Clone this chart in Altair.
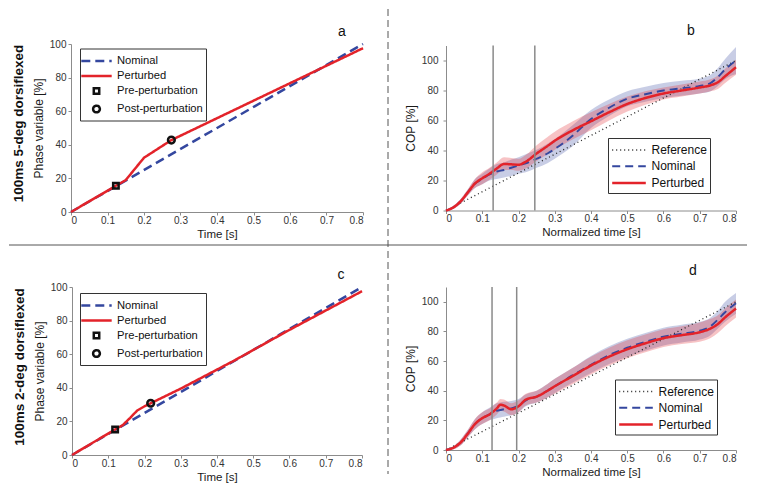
import altair as alt
import pandas as pd

BLUE = "#34479f"
RED = "#e3232a"
FONT = "Liberation Sans"

X_TICKS = [0, 0.1, 0.2, 0.3, 0.4, 0.5, 0.6, 0.7, 0.8]
Y_TICKS = [0, 20, 40, 60, 80, 100]

PHASE_SERIES = ["Nominal", "Perturbed", "Pre-perturbation", "Post-perturbation"]
COP_SERIES = ["Reference", "Nominal", "Perturbed"]

# ---------------- panel a (phase variable, 5 deg) ----------------
a_nom_t = [0.0, 0.8]
a_nom_v = [0.0, 100.0]
a_per_t = [0.0, 0.123, 0.15, 0.2, 0.275, 0.8]
a_per_v = [0.0, 15.6, 19.0, 32.3, 42.8, 97.5]
a_mark_t = [0.123, 0.275]
a_mark_v = [15.6, 42.8]

# ---------------- panel c (phase variable, 2 deg) ----------------
c_nom_t = [0.0, 0.8]
c_nom_v = [0.0, 100.0]
c_per_t = [0.0, 0.119, 0.14, 0.16, 0.18, 0.2, 0.217, 0.3, 0.45, 0.6, 0.8]
c_per_v = [0.0, 15.2, 17.8, 22.0, 26.5, 29.0, 30.8, 39.5, 56.5, 74.5, 97.5]
c_mark_t = [0.119, 0.217]
c_mark_v = [15.2, 30.8]

# ---------------- panel b (COP, 5 deg) ----------------
b_t = [0, .02, .04, .06, .08, .10, .12, .14, .16, .18, .20, .22, .25, .28, .30,
       .35, .40, .45, .50, .55, .60, .65, .70, .73, .75, .77, .80]
b_per = [0, 2, 6, 12, 18, 21.5, 24.5, 28, 31, 30.8, 30.5, 32.5, 38, 43, 46.5,
         53.5, 59.5, 65.5, 71, 75, 78, 80, 82, 83.5, 85.5, 89.5, 95.5]
b_per_lo = [0, 1, 4.5, 10, 15, 17.5, 20.5, 24, 27, 27, 26.5, 28, 33, 37.5, 40.5,
            47.5, 53.5, 60, 66, 70.5, 74, 76, 78, 79.5, 81, 85, 90.5]
b_per_hi = [0.5, 3, 7.5, 14, 21, 25.5, 28.5, 32, 35.5, 35, 34.5, 37, 43.5, 49, 52.5,
            59.5, 65.5, 71, 76, 79.5, 82, 84, 86, 87.5, 90, 94.5, 100.5]
b_nom = [0, 2, 6, 12, 18, 21, 24, 26, 27, 28.5, 30, 31.5, 34.5, 38, 41,
         50, 61, 68.5, 74.5, 77.5, 80, 81.5, 83, 85, 89, 94, 100]
b_nom_lo = [0, 1, 4.5, 10, 15, 17.5, 20, 21, 22, 23, 24.5, 25.5, 28.5, 31.5, 34.5,
            43, 55, 63, 69.5, 72.5, 75, 76.5, 78, 79.5, 83, 87.5, 91]
b_nom_hi = [0.5, 3, 7.5, 14, 21, 24.5, 28, 31, 32, 34, 35.5, 37.5, 40.5, 44.5, 47.5,
            57, 67, 74, 79.5, 82.5, 85, 86.5, 88, 90.5, 95, 101, 109]
b_ref_t = [0.0, 0.8]
b_ref_v = [0.0, 100.0]
b_vlines = [0.13, 0.245]

# ---------------- panel d (COP, 2 deg) ----------------
d_t = [0, .02, .04, .06, .08, .10, .12, .14, .15, .16, .18, .20, .22, .25, .28, .30,
       .35, .40, .45, .50, .55, .60, .65, .70, .73, .75, .77, .80]
d_per = [0, 1.5, 5, 11, 17.5, 21.5, 24, 28, 30.5, 30, 27.5, 29.5, 34, 36, 40, 43,
         50, 57, 63, 68, 72, 75.5, 77.5, 79.5, 82, 85, 89.5, 95.5]
d_per_lo = [0, 0.5, 3, 8.5, 14, 17.5, 20, 24, 26.5, 26, 23.5, 25.5, 30, 32, 35.5, 38,
            44.5, 51, 57, 62, 66, 69.5, 71.5, 73, 75.5, 79, 83.5, 89.5]
d_per_hi = [0.5, 2.5, 7, 13.5, 21, 25.5, 28, 32, 34.5, 34, 31.5, 33.5, 38, 40, 44.5, 48,
            55.5, 63, 69, 74, 78, 81.5, 83.5, 86, 88.5, 91, 95.5, 101.5]
d_nom = [0, 1.5, 5, 11, 17.5, 21.5, 24, 26.5, 27, 27.5, 28, 30, 33.5, 36, 40, 43,
         50.5, 57.5, 64, 69, 73, 76.5, 78.5, 80.5, 83.5, 88, 93, 99]
d_nom_lo = [0, 0.5, 3, 8.5, 14, 17.5, 20, 21.5, 22, 22.5, 23.5, 25.5, 29.5, 32, 35.5, 38.5,
            45.5, 52, 58, 63, 67, 70.5, 72.5, 74.5, 77.5, 82, 86.5, 92]
d_nom_hi = [0.5, 2.5, 7, 13.5, 21, 25.5, 28.5, 31.5, 32, 32.5, 33, 34.5, 37.5, 40, 44.5, 48,
            55.5, 63.5, 70, 75, 79, 82.5, 84.5, 86.5, 89.5, 94, 100, 106]
d_ref_t = [0.0, 0.8]
d_ref_v = [0.0, 100.0]
d_vlines = [0.127, 0.195]

ROW_TITLES = ["100ms 5-deg dorsiflexed", "100ms 2-deg dorsiflexed"]
LETTERS = ["a", "b", "c", "d"]

# symbol shapes (unit square -1..1 scaled by sqrt(size)/2)
LINE_SYM = "M-1.9,0L1.9,0"
LINE_SYM_B = "M-2.1,0L2.1,0"
SQUARE_SYM = "M-0.34,-0.34L0.34,-0.34L0.34,0.34L-0.34,0.34Z"
CIRCLE_SYM = "M-0.42,0A0.42,0.42 0 1,0 0.42,0A0.42,0.42 0 1,0 -0.42,0Z"

PHASE_SYM = {
    "strokeDash": "datum.value == 'Nominal' ? [9, 6] : [1, 0]",
    "strokeWidth": "2.5",
}
COP_SYM = {
    "strokeDash": "datum.value == 'Nominal' ? [7, 5] : datum.value == 'Reference' ? [1, 3] : [1, 0]",
    "strokeWidth": "datum.value == 'Reference' ? 1.3 : 2.5",
}

MODE = {"enc": "flat", "axis": "flat"}


def sym_encode(spec):
    if MODE["enc"] == "flat":
        d = {k: {"value": {"expr": v}} for k, v in spec.items()}
        d["fill"] = {"value": "transparent"}
        return {"symbols": d}
    if MODE["enc"] == "update":
        d = {k: {"signal": v} for k, v in spec.items()}
        d["fill"] = {"value": "transparent"}
        return {"symbols": {"update": d}}
    return None


def tick_encode(prop, val):
    # inward pointing ticks, MATLAB style
    if MODE["axis"] == "flat":
        return {"ticks": {prop: {"value": val}}}
    return None


def axis(**kw):
    return alt.Axis(**{k: v for k, v in kw.items() if v is not None})


def text_at(txt, x, y, size, bold=False, angle=0):
    return alt.Chart(alt.Data(values=[{}])).mark_text(
        text=txt, fontSize=size, font=FONT, fontWeight="bold" if bold else "normal",
        angle=angle, align="center", baseline="middle", color="#111111"
    ).encode(x=alt.value(x), y=alt.value(y))


def vrule_at(x, y, y2, dashed=False):
    kw = dict(color="#555555", strokeWidth=1)
    if dashed:
        kw["strokeDash"] = [7, 4]
    return alt.Chart(alt.Data(values=[{}])).mark_rule(**kw).encode(
        x=alt.value(x), y=alt.value(y), y2=alt.value(y2))


def hrule_at(y, x, x2):
    return alt.Chart(alt.Data(values=[{}])).mark_rule(color="#555555", strokeWidth=1).encode(
        y=alt.value(y), x=alt.value(x), x2=alt.value(x2))


def make_legend(lx, ly, spec, font_size, row_pad, sym_offset, label_offset, sym_type=None):
    kw = dict(orient="none", legendX=lx, legendY=ly, title=None, labelFontSize=font_size,
              rowPadding=row_pad, symbolSize=256, symbolOffset=sym_offset,
              labelOffset=label_offset)
    if sym_type is not None:
        kw["symbolType"] = sym_type
    enc = sym_encode(spec)
    if enc is not None:
        kw["encode"] = enc
    return alt.Legend(**kw)


def x_axis(title):
    return axis(values=X_TICKS, format="~g", title=title, titleFontSize=11.5,
                labelPadding=0, labelOverlap=False, encode=tick_encode("y2", -3))


def y_axis(title, label_pad):
    return axis(values=Y_TICKS, title=title, titlePadding=4, labelPadding=label_pad,
                labelOverlap=False, encode=tick_encode("x2", 3))


def phase_panel(nom_t, nom_v, per_t, per_v, mark_t, mark_v, w, h, lx, ly, rp, extras):
    lines = pd.DataFrame({
        "series": ["Nominal"] * len(nom_t) + ["Perturbed"] * len(per_t),
        "t": nom_t + per_t, "v": nom_v + per_v})
    pts = pd.DataFrame({"series": PHASE_SERIES[2:], "t": mark_t, "v": mark_v})
    x = alt.X("t:Q", scale=alt.Scale(domain=[0, 0.8], nice=False), axis=x_axis("Time [s]"))
    y = alt.Y("v:Q", scale=alt.Scale(domain=[0, 100], nice=False),
              axis=y_axis("Phase variable [%]", 2))
    leg = make_legend(lx, ly, PHASE_SYM, 11.2, rp, 4, 11)
    color = alt.Color("series:N", scale=alt.Scale(domain=PHASE_SERIES,
                      range=[BLUE, RED, "#111111", "#111111"]), legend=leg)
    shape = alt.Shape("series:N", scale=alt.Scale(domain=PHASE_SERIES,
                      range=[LINE_SYM, LINE_SYM, SQUARE_SYM, CIRCLE_SYM]), legend=leg)
    dash = alt.StrokeDash("series:N", scale=alt.Scale(domain=PHASE_SERIES,
                          range=[[9, 5], [1, 0], [1, 0], [1, 0]]), legend=None)
    line_layer = alt.Chart(lines).mark_line(strokeWidth=2.5).encode(
        x=x, y=y, color=color, strokeDash=dash)
    pt_layer = alt.Chart(pts).mark_point(size=256, filled=False, strokeWidth=2.5,
                                         opacity=1).encode(x=x, y=y, color=color, shape=shape)
    return alt.layer(line_layer, pt_layer, *extras).properties(width=w, height=h)


def cop_panel(t, nom, nlo, nhi, per, plo, phi, ref_t, ref_v, vl, w, h, lx, ly, extras):
    n = len(t)
    bands = pd.DataFrame({
        "series": ["Nominal"] * n + ["Perturbed"] * n,
        "t": t + t, "lo": nlo + plo, "hi": nhi + phi})
    lines = pd.DataFrame({
        "series": ["Reference"] * len(ref_t) + ["Nominal"] * n + ["Perturbed"] * n,
        "t": ref_t + t + t, "v": ref_v + nom + per})
    x = alt.X("t:Q", scale=alt.Scale(domain=[0, 0.8], nice=False),
              axis=x_axis("Normalized time [s]"))
    yscale = alt.Scale(domain=[0, 110], nice=False)
    yaxis = y_axis("COP [%]", 5)
    band = alt.Chart(bands).mark_area(opacity=0.27, interpolate="monotone").encode(
        x=x, y=alt.Y("lo:Q", scale=yscale, axis=yaxis), y2="hi:Q",
        fill=alt.Fill("series:N", scale=alt.Scale(domain=["Nominal", "Perturbed"],
                      range=[BLUE, RED]), legend=None))
    line = alt.Chart(lines).mark_line(interpolate="monotone").encode(
        x=x, y=alt.Y("v:Q", scale=yscale, axis=yaxis),
        color=alt.Color("series:N", scale=alt.Scale(domain=COP_SERIES,
                        range=["#222222", BLUE, RED]),
                        legend=make_legend(lx, ly, COP_SYM, 12, 1.3, 8.5, 13, LINE_SYM_B)),
        strokeDash=alt.StrokeDash("series:N", scale=alt.Scale(domain=COP_SERIES,
                                  range=[[1, 3], [8, 5], [1, 0]]), legend=None),
        strokeWidth=alt.StrokeWidth("series:N", scale=alt.Scale(domain=COP_SERIES,
                                    range=[1.3, 2.5, 2.5]), legend=None))
    # vertical event markers spanning the full plot height
    rules = alt.Chart(pd.DataFrame({"t": vl})).mark_rule(color="#8a8a8a", strokeWidth=1.5).encode(
        x=x, y=alt.value(0), y2=alt.value(h))
    return alt.layer(band, line, rules, *extras).properties(width=w, height=h)


def build():
    pa = phase_panel(a_nom_t, a_nom_v, a_per_t, a_per_v, a_mark_t, a_mark_v, 292, 168, 9, 4.5,
                     -0.4, [
        text_at(ROW_TITLES[0], -52, 79.5, 13.5, bold=True, angle=270),
        text_at(LETTERS[0], 271, -12, 14),
        vrule_at(317, -35, 430, dashed=True),
        hrule_at(201, -62, 676),
    ])
    pb = cop_panel(b_t, b_nom, b_nom_lo, b_nom_hi, b_per, b_per_lo, b_per_hi, b_ref_t, b_ref_v,
                   b_vlines, 290, 165, 162, 92.5, [text_at(LETTERS[1], 245, -14.5, 14)])
    pc = phase_panel(c_nom_t, c_nom_v, c_per_t, c_per_v, c_mark_t, c_mark_v, 290, 168, 8, 6,
                     0, [
        text_at(ROW_TITLES[1], -52, 80, 13.5, bold=True, angle=270),
        text_at(LETTERS[2], 269, -12.3, 14),
    ])
    pdd = cop_panel(d_t, d_nom, d_nom_lo, d_nom_hi, d_per, d_per_lo, d_per_hi, d_ref_t, d_ref_v,
                    d_vlines, 290, 163, 169, 92.5, [text_at(LETTERS[3], 247, -16.5, 14)])

    ch = alt.concat(pa, pb, pc, pdd, columns=2, spacing={"row": 75, "column": 83},
                    bounds="flush", center=True).properties(padding=0)
    ch = ch.resolve_scale(color="independent", strokeDash="independent",
                          strokeWidth="independent", fill="independent",
                          shape="independent").resolve_legend(
        color="independent", strokeDash="independent", strokeWidth="independent",
        fill="independent", shape="independent")
    ch = ch.configure_view(stroke="transparent").configure_axis(
        grid=False, domainColor="#8c8c8c", tickColor="#8c8c8c", labelColor="#333333",
        titleColor="#1a1a1a", labelFont=FONT, titleFont=FONT, labelFontSize=10,
        titleFontSize=12, titleFontWeight="normal", tickSize=3, labelPadding=2, titlePadding=3,
        labelOverlap=False
    ).configure_legend(
        strokeColor="#333333", fillColor="white", padding=3, labelFont=FONT,
        labelColor="#111111", symbolStrokeWidth=2.5, cornerRadius=0
    )
    return ch


chart = None
for axis_mode in ["flat", "none"]:
    for mode in ["flat", "update", "none"]:
        MODE["enc"] = mode
        MODE["axis"] = axis_mode
        try:
            chart = build()
            chart.to_dict()
            break
        except Exception:
            chart = None
    if chart is not None:
        break

chart.save("out.html", embed_options={"renderer": "svg", "actions": False})
